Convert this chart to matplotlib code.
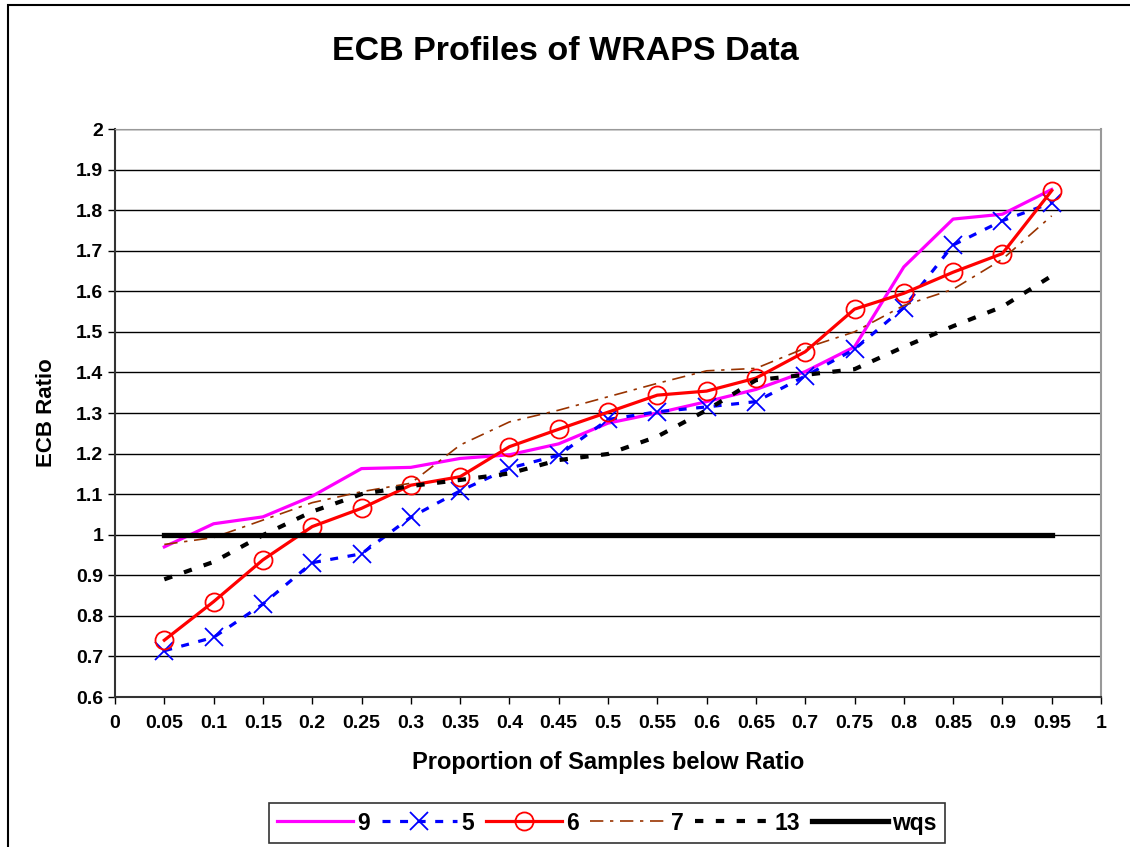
import matplotlib
matplotlib.use('Agg')
import matplotlib.pyplot as plt
from matplotlib.patches import Rectangle

plt.rcParams['font.family'] = ['Liberation Sans', 'DejaVu Sans']
plt.rcParams['font.weight'] = 'bold'

# ── data ─────────────────────────
proportion = [0.05, 0.1, 0.15, 0.2, 0.25, 0.3, 0.35, 0.4, 0.45, 0.5,
              0.55, 0.6, 0.65, 0.7, 0.75, 0.8, 0.85, 0.9, 0.95]
s9  = [0.97, 1.027, 1.044, 1.095, 1.163, 1.166, 1.188, 1.197, 1.224, 1.275,
       1.30, 1.328, 1.358, 1.402, 1.463, 1.66, 1.778, 1.79, 1.851]
s5  = [0.714, 0.747, 0.829, 0.931, 0.953, 1.043, 1.108, 1.164, 1.196, 1.284,
       1.303, 1.315, 1.328, 1.391, 1.457, 1.56, 1.714, 1.774, 1.818]
s6  = [0.74, 0.835, 0.938, 1.02, 1.065, 1.122, 1.143, 1.217, 1.26, 1.302,
       1.344, 1.354, 1.386, 1.451, 1.556, 1.595, 1.647, 1.693, 1.848]
s7  = [0.976, 0.993, 1.036, 1.079, 1.106, 1.127, 1.221, 1.278, 1.307, 1.34,
       1.373, 1.404, 1.41, 1.46, 1.50, 1.565, 1.605, 1.679, 1.786]
s13 = [0.89, 0.933, 0.999, 1.057, 1.10, 1.12, 1.135, 1.151, 1.184, 1.199,
       1.242, 1.307, 1.381, 1.394, 1.408, 1.463, 1.514, 1.562, 1.638]
wqs = [1.0] * len(proportion)

xtick_labels = ['0', '0.05', '0.1', '0.15', '0.2', '0.25', '0.3', '0.35',
                '0.4', '0.45', '0.5', '0.55', '0.6', '0.65', '0.7', '0.75',
                '0.8', '0.85', '0.9', '0.95', '1']
ytick_labels = ['0.6', '0.7', '0.8', '0.9', '1', '1.1', '1.2', '1.3',
                '1.4', '1.5', '1.6', '1.7', '1.8', '1.9', '2']

fig = plt.figure(figsize=(11.3, 8.47), dpi=100)
ax = fig.add_axes([115/1130, 1 - 697/847, (1101-115)/1130, (697-129)/847])

# outer chart border (cropped on right / bottom)
fig.patches.append(Rectangle((8/1130, -0.01), 1.2, 1 - 5/847 + 0.01,
                             transform=fig.transFigure, fill=False,
                             edgecolor='black', linewidth=1.5))

ax.plot(proportion, s9, color='#FF00FF', linewidth=2.3, label='9')
ax.plot(proportion, s5, color='#0000FF', linewidth=2.3, dashes=(2.5, 3),
        marker='x', markersize=13, markeredgewidth=1.3, label='5')
ax.plot(proportion, s6, color='#FF0000', linewidth=2.3, marker='o',
        markersize=13, markerfacecolor='none', markeredgewidth=1.3, label='6')
ax.plot(proportion, s7, color='#993300', linewidth=1.2,
        dashes=(8, 4, 2, 4), label='7')
ax.plot(proportion, s13, color='black', linewidth=3, dashes=(2, 3), label='13')
ax.plot(proportion, wqs, color='black', linewidth=3.8, label='wqs')

ax.set_xlim(0, 1)
ax.set_ylim(0.6, 2)
ax.set_xticks([float(t) for t in xtick_labels])
ax.set_xticklabels(xtick_labels)
ax.set_yticks([float(t) for t in ytick_labels])
ax.set_yticklabels(ytick_labels)
ax.tick_params(labelsize=14, length=5, width=1, direction='out')
ax.tick_params(axis='x', pad=8)
ax.grid(True, axis='y', color='black', linewidth=1)
ax.set_axisbelow(True)
for side in ['left', 'bottom']:
    ax.spines[side].set_color('#333333')
    ax.spines[side].set_linewidth(1.5)
ax.spines['right'].set_color('#999999')
ax.spines['right'].set_linewidth(1.5)
ax.spines['top'].set_color('#999999')

fig.text(0.5, 1 - 51/847, 'ECB Profiles of WRAPS Data', ha='center',
         va='center', fontsize=24.5, fontweight='bold')
ax.set_xlabel('Proportion of Samples below Ratio', fontsize=17,
              fontweight='bold', labelpad=14)
ax.set_ylabel('ECB Ratio', fontsize=16, fontweight='bold', labelpad=14)

leg = fig.legend(loc='center', bbox_to_anchor=(607/1130, 1 - 823/847),
                 ncol=6, fontsize=16.5, handlelength=3.3, handletextpad=0.2,
                 columnspacing=0.5, frameon=True, fancybox=False,
                 borderpad=0.35)
leg.get_frame().set_edgecolor('black')
leg.get_frame().set_linewidth(1.2)

fig.savefig('out.png', dpi=100, facecolor='white')
